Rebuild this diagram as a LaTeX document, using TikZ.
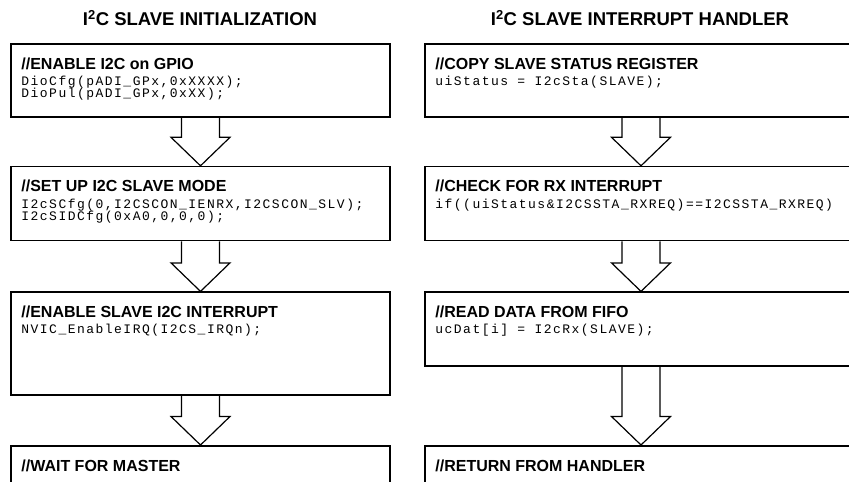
\documentclass[tikz,border=0pt]{standalone}
\usepackage{fontspec}
\setmainfont{Liberation Sans}
\newfontfamily\codefont{Liberation Mono}[LetterSpace=11.4]
\usetikzlibrary{positioning}
\tikzset{
	box/.style={rectangle, draw, line width=1.6pt, minimum width=379pt, inner sep=0pt},
	widebox/.style={box, minimum width=432pt},
	blockarrow/.style={line width=1.2pt, line join=miter}
}
% hollow down arrow from one box to the next
\newcommand{\flowarrow}[2]{%
	\draw[blockarrow] ([xshift=-19pt]#1.south) |- ([xshift=-29.5pt,yshift=28.5pt]#2.north)
	-- (#2.north) -- ([xshift=29.5pt,yshift=28.5pt]#2.north) -| ([xshift=19pt]#1.south);}

\begin{document}
\begin{tikzpicture}[
		x=1pt, y=-1pt,
		title/.style={font=\fontsize{18.5}{22}\selectfont\bfseries, anchor=base, inner sep=0pt},
		hdr/.style={font=\fontsize{16}{19}\selectfont\bfseries, anchor=base west, inner sep=0pt},
		code/.style={font=\codefont\fontsize{13}{12}\selectfont, anchor=base west, inner sep=0pt}
		]
		\clip (0,0) rectangle (849,482);
		
		\node[title] (ttlinit) at (200,25.5) {I\textsuperscript{2}C SLAVE INITIALIZATION};
		\node[title] (ttlirq) at (640,25.5) {I\textsuperscript{2}C SLAVE INTERRUPT HANDLER};
		
		% initialization
		\node[box, minimum height=73pt] (init1) at (200.5,80.5) {};
		\node[box, minimum height=74pt, below=48pt of init1] (init2) {};
		\node[box, minimum height=103pt, below=50pt of init2] (init3) {};
		\node[box, minimum height=40pt, below=49pt of init3] (init4) {};
		
		\node[hdr] (init1h) at ([xshift=11pt,yshift=-26pt]init1.north west) {//ENABLE I2C on GPIO};
		\node[code] (init1a) at ([xshift=11pt,yshift=-42.5pt]init1.north west) {DioCfg(pADI\_GPx,0xXXXX);};
		\node[code] (init1b) at ([xshift=11pt,yshift=-54.5pt]init1.north west) {DioPul(pADI\_GPx,0xXX);};
		
		\node[hdr] (init2h) at ([xshift=11pt,yshift=-26pt]init2.north west) {//SET UP I2C SLAVE MODE};
		\node[code] (init2a) at ([xshift=11pt,yshift=-42.5pt]init2.north west) {I2cSCfg(0,I2CSCON\_IENRX,I2CSCON\_SLV);};
		\node[code] (init2b) at ([xshift=11pt,yshift=-54.5pt]init2.north west) {I2cSIDCfg(0xA0,0,0,0);};
		
		\node[hdr] (init3h) at ([xshift=11pt,yshift=-26pt]init3.north west) {//ENABLE SLAVE I2C INTERRUPT};
		\node[code] (init3a) at ([xshift=11pt,yshift=-42.5pt]init3.north west) {NVIC\_EnableIRQ(I2CS\_IRQn);};
		
		\node[hdr] (init4h) at ([xshift=11pt,yshift=-26pt]init4.north west) {//WAIT FOR MASTER};
		
		\flowarrow{init1}{init2}
		\flowarrow{init2}{init3}
		\flowarrow{init3}{init4}
		
		% interrupt handler
		\node[widebox, minimum height=73pt] (irq1) at (641,80.5) {};
		\node[widebox, minimum height=74pt, below=48pt of irq1] (irq2) {};
		\node[widebox, minimum height=74pt, below=50pt of irq2] (irq3) {};
		\node[widebox, minimum height=40pt, below=78pt of irq3] (irq4) {};
		
		\node[hdr] (irq1h) at ([xshift=11pt,yshift=-26pt]irq1.north west) {//COPY SLAVE STATUS REGISTER};
		\node[code] (irq1a) at ([xshift=11pt,yshift=-42.5pt]irq1.north west) {uiStatus = I2cSta(SLAVE);};
		
		\node[hdr] (irq2h) at ([xshift=11pt,yshift=-26pt]irq2.north west) {//CHECK FOR RX INTERRUPT};
		\node[code] (irq2a) at ([xshift=11pt,yshift=-42.5pt]irq2.north west) {if((uiStatus\&I2CSSTA\_RXREQ)==I2CSSTA\_RXREQ)};
		
		\node[hdr] (irq3h) at ([xshift=11pt,yshift=-26pt]irq3.north west) {//READ DATA FROM FIFO};
		\node[code] (irq3a) at ([xshift=11pt,yshift=-42.5pt]irq3.north west) {ucDat[i] = I2cRx(SLAVE);};
		
		\node[hdr] (irq4h) at ([xshift=11pt,yshift=-26pt]irq4.north west) {//RETURN FROM HANDLER};
		
		\flowarrow{irq1}{irq2}
		\flowarrow{irq2}{irq3}
		\flowarrow{irq3}{irq4}
		
	\end{tikzpicture}
\end{document}
